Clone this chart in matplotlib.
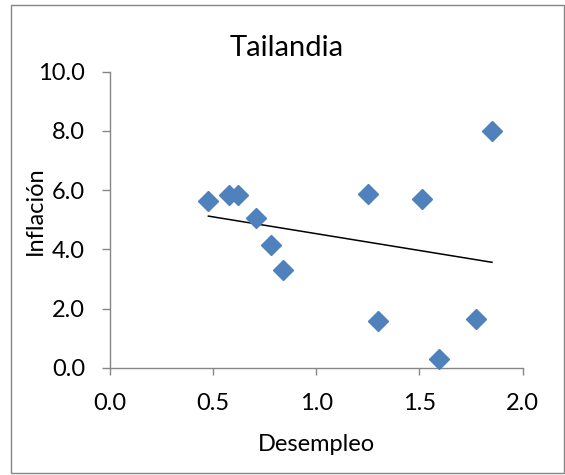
import matplotlib
matplotlib.use("Agg")
import matplotlib.pyplot as plt
import numpy as np
from matplotlib.patches import Rectangle

title = "Tailandia"
x_label = "Desempleo"
y_label = "Inflación"
desempleo = [0.477, 0.579, 0.622, 0.707, 0.782, 0.838, 1.250, 1.301, 1.514, 1.593, 1.775, 1.852]
inflacion = [5.63, 5.83, 5.83, 5.05, 4.15, 3.30, 5.87, 1.59, 5.70, 0.28, 1.63, 8.01]
x_ticks = [0.0, 0.5, 1.0, 1.5, 2.0]
y_ticks = [0.0, 2.0, 4.0, 6.0, 8.0, 10.0]

plt.rcParams['font.family'] = ['Lato', 'DejaVu Sans']

W, H = 565, 475
fig = plt.figure(figsize=(W/100, H/100), dpi=100)
fig.patches.append(Rectangle((11/W, 2/H), 553/W, 468/H, transform=fig.transFigure,
                             fill=False, edgecolor='#868686', linewidth=1.0))
ax = fig.add_axes([110/W, (H-367.7)/H, 412.5/W, 296/H])

x = np.array(desempleo)
y = np.array(inflacion)
m, b = np.polyfit(x, y, 1)
xs = np.array([x.min(), x.max()])
ax.plot(xs, m*xs + b, color='black', linewidth=1.1, zorder=2)
ax.plot(x, y, linestyle='none', marker='D', markersize=10, color='#4F81BD', zorder=3, clip_on=False)

ax.set_xlim(0, 2.0)
ax.set_ylim(0, 10.0)
ax.set_xticks(x_ticks)
ax.set_yticks(y_ticks)
ax.set_xticklabels([f"{v:.1f}" for v in x_ticks])
ax.set_yticklabels([f"{v:.1f}" for v in y_ticks])
for s in ['top', 'right']:
    ax.spines[s].set_visible(False)
for s in ['left', 'bottom']:
    ax.spines[s].set_color('#868686')
    ax.spines[s].set_linewidth(1.0)
ax.tick_params(axis='x', direction='out', length=5, width=1.0, color='#868686',
               labelsize=17, labelcolor='black', pad=13.5)
ax.tick_params(axis='y', direction='out', length=6, width=1.0, color='#868686',
               labelsize=17, labelcolor='black', pad=12)

fig.text(316/W, 1-451/H, x_label, fontsize=17, ha='center', va='baseline')
fig.text(41.5/W, 1-211/H, y_label, fontsize=17, ha='center', va='baseline',
         rotation=90, rotation_mode='anchor')
fig.text(287/W, 1-56/H, title, fontsize=21, ha='center', va='baseline')

fig.savefig("out.png", dpi=100)
